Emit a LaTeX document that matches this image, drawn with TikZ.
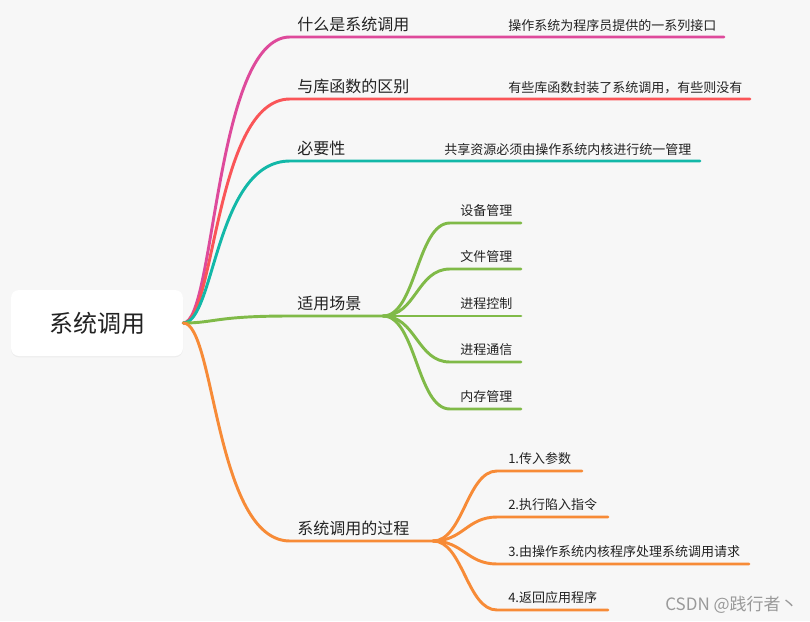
\documentclass[tikz,border=0pt]{standalone}
\usepackage{fontspec}
\setmainfont{Noto Sans CJK SC}
\usetikzlibrary{shadows}

\definecolor{bgcol}{RGB}{247,247,247}
\definecolor{txtcol}{RGB}{34,34,34}
\definecolor{pinkc}{RGB}{222,74,155}
\definecolor{redc}{RGB}{250,85,88}
\definecolor{tealc}{RGB}{19,184,168}
\definecolor{greenc}{RGB}{128,186,72}
\definecolor{orangec}{RGB}{247,139,55}

\tikzset{
  rootbox/.style={fill=white, rounded corners=6pt, minimum width=129pt, minimum height=49.5pt,
    inner sep=0pt, font=\fontsize{18}{20}\selectfont, text=txtcol,
    drop shadow={opacity=0.08, shadow xshift=0pt, shadow yshift=-1pt}},
  branch/.style={font=\fontsize{12}{14}\selectfont, anchor=base west, inner sep=0pt, text=txtcol},
  leaf/.style={font=\fontsize{9.75}{12}\selectfont, anchor=base west, inner sep=0pt, text=txtcol},
  link/.style={line width=2.2pt, line cap=round},
}

\begin{document}
\begin{tikzpicture}[x=0.75pt,y=-0.75pt]
% Background
\fill[bgcol] (0,0) rectangle (810,621);
\useasboundingbox (0,0) rectangle (810,621);

% Root
\node[rootbox] (root) at (97,323) {系统调用};

% What is a system call
\coordinate (what-s) at (290,37);
\coordinate (what-e) at (724,37);
\node[branch] (what) at (297,30) {什么是系统调用};
\node[leaf] (what-l) at (508,30) {操作系统为程序员提供的一系列接口};
\draw[link,pinkc] (root.east) .. controls (215,323) and (215,37) .. (what-s) -- (what-e);

% Difference from library functions
\coordinate (diff-s) at (290,99);
\coordinate (diff-e) at (750,99);
\node[branch] (diff) at (297,92) {与库函数的区别};
\node[leaf] (diff-l) at (508,92) {有些库函数封装了系统调用，有些则没有};
\draw[link,redc] (root.east) .. controls (215,323) and (215,99) .. (diff-s) -- (diff-e);

% Necessity
\coordinate (need-s) at (290,161);
\coordinate (need-e) at (700,161);
\node[branch] (need) at (297,154) {必要性};
\node[leaf] (need-l) at (444,154) {共享资源必须由操作系统内核进行统一管理};
\draw[link,tealc] (root.east) .. controls (215,323) and (215,161) .. (need-s) -- (need-e);

% Use cases
\coordinate (use-s) at (290,316);
\coordinate (use-hub) at (383,316);
\node[branch] (use) at (297,309) {适用场景};
\draw[link,greenc] (root.east) .. controls (215,323) and (215,316) .. (use-s) -- (use-hub);
\foreach \name/\y/\txt in {dev/223/设备管理, file/269/文件管理, proc/316/进程控制, ipc/362/进程通信, mem/409/内存管理}{
  \coordinate (\name-s) at (450,\y);
  \coordinate (\name-e) at (521,\y);
  \node[leaf] (\name) at (460,\y-8) {\txt};
  \draw[link,greenc] (use-hub) .. controls +(33,0) and +(-33,0) .. (\name-s) -- (\name-e);
}

% Process of a system call
\coordinate (flow-s) at (290,541);
\coordinate (flow-hub) at (433,541);
\node[branch] (flow) at (297,534) {系统调用的过程};
\draw[link,orangec] (root.east) .. controls (215,323) and (215,541) .. (flow-s) -- (flow-hub);
\foreach \name/\y/\x/\txt in {arg/471/582/1.传入参数, trap/517/608/2.执行陷入指令, kern/564/749/3.由操作系统内核程序处理系统调用请求, ret/610/608/4.返回应用程序}{
  \coordinate (\name-s) at (497,\y);
  \coordinate (\name-e) at (\x,\y);
  \node[leaf] (\name) at (508,\y-8) {\txt};
  \draw[link,orangec] (flow-hub) .. controls +(30,0) and +(-30,0) .. (\name-s) -- (\name-e);
}

% Watermark
\node[anchor=base west, inner sep=0pt, font=\fontsize{12.75}{14}\selectfont, text=black!40] (mark) at (665,610) {CSDN @践行者丶};
\end{tikzpicture}
\end{document}
